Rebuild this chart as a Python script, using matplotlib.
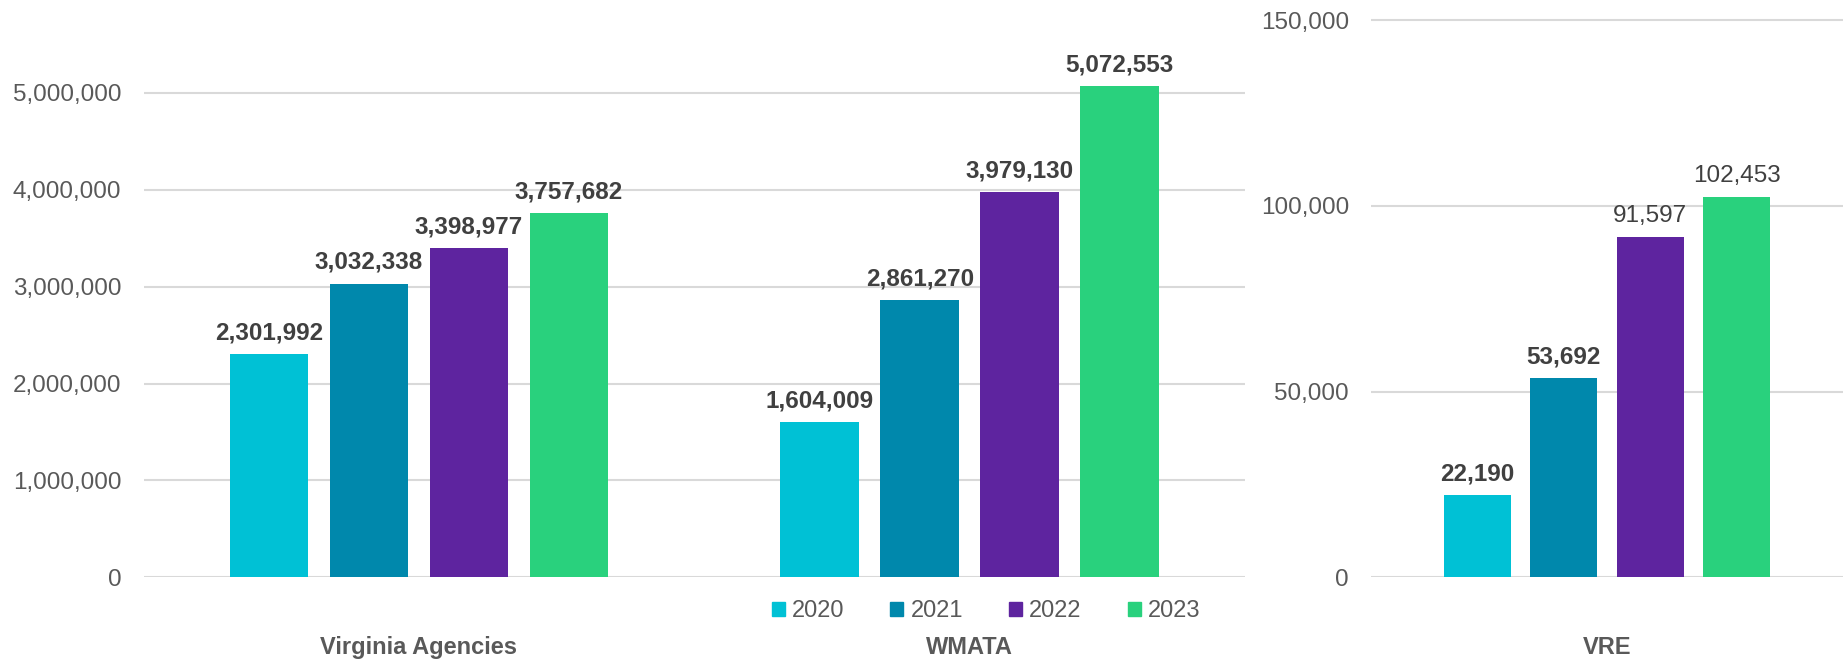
import matplotlib.pyplot as plt
import numpy as np
from matplotlib.ticker import FuncFormatter
from matplotlib.patches import Patch

plt.rcParams['font.family'] = ['Liberation Sans', 'DejaVu Sans']

years = ["2020", "2021", "2022", "2023"]
colors = ["#00C1D5", "#0088AC", "#5E249F", "#29D17D"]

big_groups = ["Virginia Agencies", "WMATA"]
va_values = [2301992, 3032338, 3398977, 3757682]
wmata_values = [1604009, 2861270, 3979130, 5072553]

vre_group = "VRE"
vre_values = [22190, 53692, 91597, 102453]
vre_bold = [True, True, False, False]

label_color = "#404040"
axis_color = "#595959"
grid_color = "#D9D9D9"

fig = plt.figure(figsize=(18.43, 6.62), dpi=100)
ax1 = fig.add_axes([0.0779, 0.128, 0.5977, 0.872])
ax2 = fig.add_axes([0.744, 0.128, 0.256, 0.872])

fmt = FuncFormatter(lambda v, p: f"{int(v):,}")


def style(ax):
    for s in ax.spines.values():
        s.set_visible(False)
    ax.yaxis.grid(True, color=grid_color, linewidth=1.5)
    ax.set_axisbelow(True)
    ax.tick_params(axis="y", length=0, pad=16, labelsize=17.5, labelcolor=axis_color)
    ax.tick_params(axis="x", length=0, labelbottom=False)
    ax.yaxis.set_major_formatter(fmt)


# left panel: Virginia Agencies and WMATA
width, step = 0.143, 0.1816
x = np.arange(len(big_groups))
series = list(zip(va_values, wmata_values))
for i, yr in enumerate(years):
    pos = x + (i - 1.5) * step
    bars = ax1.bar(pos, series[i], width, color=colors[i], label=yr)
    for b, v in zip(bars, series[i]):
        ax1.annotate(f"{v:,}", (b.get_x() + b.get_width() / 2, v),
                     xytext=(0, 7), textcoords="offset points",
                     ha="center", va="bottom", fontsize=17.5,
                     fontweight="bold", color=label_color)
style(ax1)
ax1.set_xlim(-0.5, 1.5)
ax1.set_ylim(0, 5.96e6)
ax1.set_yticks(np.arange(0, 5000001, 1000000))

# right panel: VRE
w2, s2 = 0.142, 0.183
for i, yr in enumerate(years):
    pos = (i - 1.5) * s2
    ax2.bar(pos, vre_values[i], w2, color=colors[i])
    ax2.annotate(f"{vre_values[i]:,}", (pos, vre_values[i]),
                 xytext=(0, 7), textcoords="offset points",
                 ha="center", va="bottom", fontsize=17.5,
                 fontweight="bold" if vre_bold[i] else "normal",
                 color=label_color)
style(ax2)
ax2.set_xlim(-0.5, 0.5)
ax2.set_ylim(0, 155400)
ax2.set_yticks([0, 50000, 100000, 150000])

# category labels
for cx, name in zip([0.0779 + 0.5977 * 0.25, 0.0779 + 0.5977 * 0.75, 0.744 + 0.128], big_groups + [vre_group]):
    fig.text(cx, 0.022, name, ha="center", va="center", fontsize=17,
             fontweight="bold", color=axis_color)

handles = [Patch(color=c, label=y) for c, y in zip(colors, years)]
leg = fig.legend(handles=handles, loc="center", bbox_to_anchor=(0.535, 0.077),
                 ncol=4, frameon=False, fontsize=17, handlelength=0.55,
                 handleheight=0.55, handletextpad=0.3, columnspacing=1.95)
for t in leg.get_texts():
    t.set_color(axis_color)

fig.savefig("out.png", dpi=100)
